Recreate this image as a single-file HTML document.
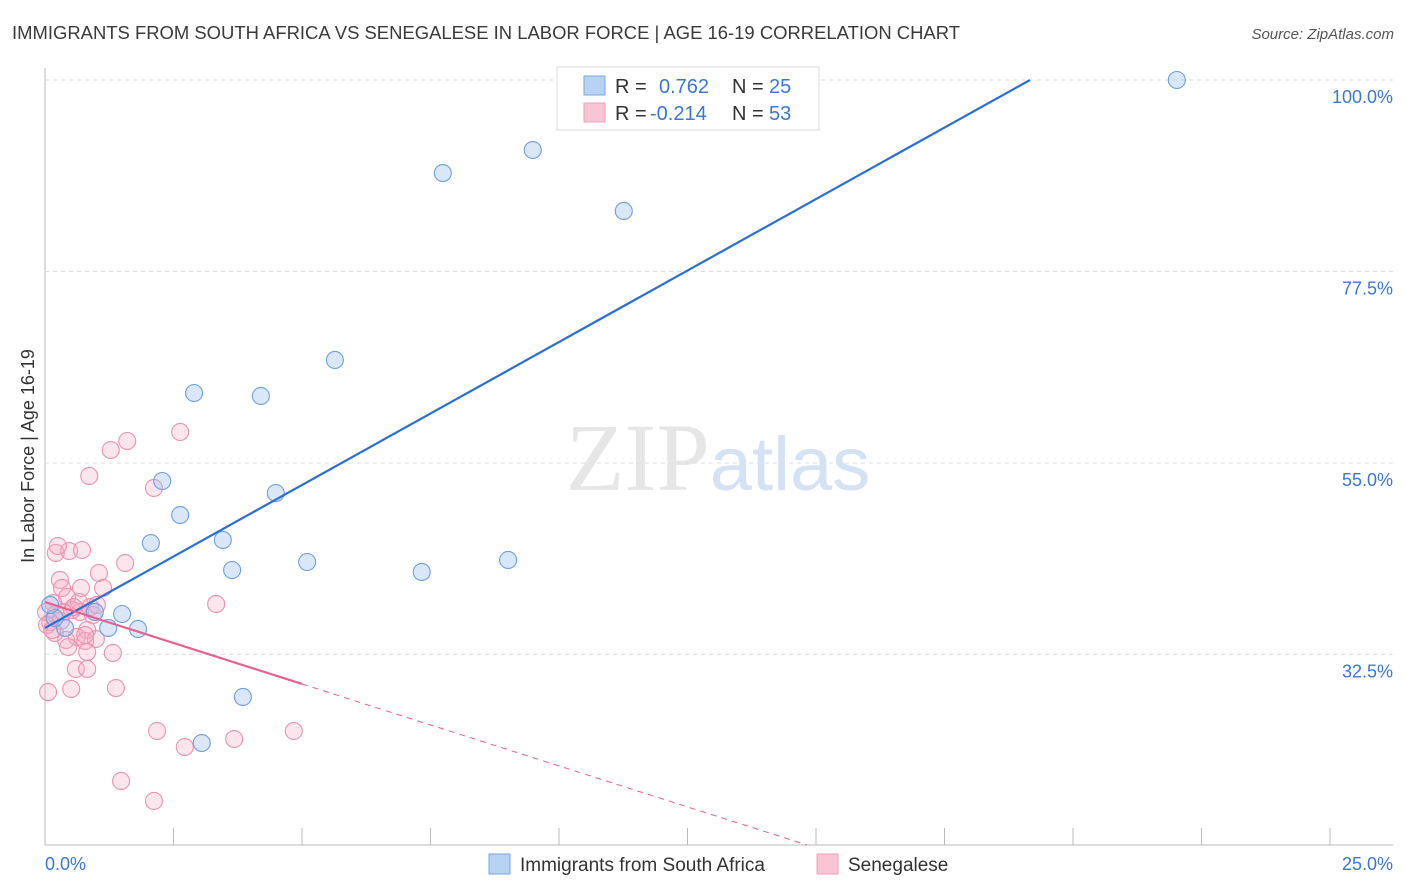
<!DOCTYPE html>
<html><head><meta charset="utf-8">
<style>
body{margin:0;background:#fff;font-family:"Liberation Sans",sans-serif;}
svg{display:block}
</style></head>
<body>
<svg id="chart" width="1406" height="892" xmlns="http://www.w3.org/2000/svg">
<text x="12" y="39" font-size="18" fill="#3a3a3a" textLength="948" lengthAdjust="spacingAndGlyphs">IMMIGRANTS FROM SOUTH AFRICA VS SENEGALESE IN LABOR FORCE | AGE 16-19 CORRELATION CHART</text>
<text x="1394" y="39" font-size="15" fill="#555" font-style="italic" text-anchor="end">Source: ZipAtlas.com</text>
<text x="718" y="490" font-size="96" text-anchor="middle" fill="#e6e6e6" font-family="Liberation Serif, serif">ZIP<tspan fill="#d4e2f4" font-family="Liberation Sans, sans-serif" font-size="76">atlas</tspan></text>
<text transform="translate(34,456) rotate(-90)" font-size="18" fill="#333" text-anchor="middle">In Labor Force | Age 16-19</text>
<g id="grid"></g>
<g id="marks"></g>
<g>
<rect x="557" y="67" width="262" height="63" fill="#fff" stroke="#ddd"/>
<rect x="584" y="76" width="21" height="19" fill="#b8d2f4" stroke="#7aa6e0"/>
<rect x="584" y="103" width="21" height="19" fill="#f8c5d4" stroke="#eea0b8"/>
<text x="615" y="93" font-size="20" fill="#333">R =<tspan x="659" fill="#3a78d4">0.762</tspan><tspan x="732" fill="#333">N = </tspan><tspan x="769" fill="#3a78d4">25</tspan></text>
<text x="615" y="120" font-size="20" fill="#333">R =<tspan x="650" fill="#3a78d4">-0.214</tspan><tspan x="732" fill="#333">N = </tspan><tspan x="769" fill="#3a78d4">53</tspan></text>
</g>
<g>
<rect x="489" y="854" width="21" height="20" fill="#b8d2f4" stroke="#7aa6e0"/>
<text x="520" y="871" font-size="19" fill="#333">Immigrants from South Africa</text>
<rect x="817" y="854" width="21" height="20" fill="#f8c5d4" stroke="#eea0b8"/>
<text x="848" y="871" font-size="19" fill="#333">Senegalese</text>
</g>
</svg>
<script>
const xTicks=[0,2.5,5,7.5,10,12.5,15,17.5,20,22.5,25];
const yTicks=[32.5,55,77.5,100];
const yTickLabels=["32.5%","55.0%","77.5%","100.0%"];
const blueX=[22.02,9.49,7.74,11.26,5.64,2.90,4.20,2.28,4.49,2.63,2.06,3.46,3.64,5.10,7.33,9.01,0.97,1.50,1.23,1.81,0.39,0.19,0.10,3.85,3.05];
const blueY=[100,91.77,89.07,84.61,67.1,63.22,62.87,52.88,51.47,48.88,45.59,45.95,42.42,43.36,42.19,43.6,37.49,37.25,35.61,35.49,35.61,36.78,38.31,27.5,22.09];
const pinkX=[0.06,0.51,0.21,0.47,0.72,0.25,0.86,1.28,1.60,2.63,2.12,1.56,1.05,0.29,0.33,0.70,1.13,0.43,0.66,0.16,0.88,0.53,0.02,0.21,0.93,0.10,0.31,0.82,0.19,0.62,0.41,0.78,0.99,0.45,0.82,1.32,0.60,0.82,1.38,3.33,2.18,2.72,3.68,4.84,1.48,2.12,0.04,0.68,1.01,0.56,0.35,0.78,0.14];
const pinkY=[28.08,28.44,44.42,44.65,44.77,45.24,53.47,56.52,57.58,58.64,52.06,43.24,42.07,41.25,40.31,40.31,40.31,39.25,38.66,38.54,38.07,37.72,37.49,37.25,37.13,36.31,36.43,35.37,35.02,34.55,34.2,34.08,34.31,33.37,32.78,32.67,30.79,30.79,28.55,38.43,23.5,21.62,22.56,23.5,17.63,15.28,35.96,37.49,38.31,38.07,37.49,34.78,35.37];
const blueLine=[35.61,3.36];   // intercept, slope
const pinkLine=[38.66,-1.926];
const NS="http://www.w3.org/2000/svg";
const X=v=>45+v*51.4, Y=v=>80+(100-v)*8.51;
const yMin=100-(845-80)/8.51;
function mk(t,a,p){const e=document.createElementNS(NS,t);for(const k in a)e.setAttribute(k,a[k]);p.appendChild(e);return e;}
const grid=document.getElementById('grid'),marks=document.getElementById('marks');
mk('line',{x1:45,y1:68,x2:45,y2:845,stroke:'#bbb'},grid);
mk('line',{x1:45,y1:845,x2:1393,y2:845,stroke:'#bbb'},grid);
yTicks.forEach((t,i)=>{
 const l=mk('line',{x1:45,y1:Y(t),x2:1393,y2:Y(t),stroke:'#ddd','stroke-dasharray':'4,4'},grid);
 
 
 const tx=mk('text',{x:1393,y:Y(t)+23,'font-size':18,fill:'#3a78d4','text-anchor':'end'},grid);
 tx.textContent=yTickLabels[i];
 
 
});
xTicks.forEach(t=>{
 const l=mk('line',{x1:X(t),y1:828,x2:X(t),y2:845,stroke:'#bbb'},grid);
 
 
});
const xl=mk('text',{x:45,y:870,'font-size':18,fill:'#3a78d4'},grid);xl.textContent='0.0%';


const xr=mk('text',{x:1393,y:870,'font-size':18,fill:'#3a78d4','text-anchor':'end'},grid);xr.textContent='25.0%';


pinkX.forEach((x,i)=>{
 const c=mk('circle',{cx:X(x),cy:Y(pinkY[i]),r:8.5,fill:'rgba(245,170,195,0.3)',stroke:'#eb92b0','stroke-width':1.1},marks);
 
 
});
blueX.forEach((x,i)=>{
 const c=mk('circle',{cx:X(x),cy:Y(blueY[i]),r:8.5,fill:'rgba(160,195,240,0.4)',stroke:'#6f9fdc','stroke-width':1.1},marks);
 
 
});
const bxEnd=(100-blueLine[0])/blueLine[1];
const bl=mk('line',{x1:X(0),y1:Y(blueLine[0]),x2:X(bxEnd),y2:Y(100),stroke:'#2a6fd6','stroke-width':2.2},marks);


const pSolid=5, pEnd=(pinkLine[0]-yMin)/(-pinkLine[1]);
const ps=mk('line',{x1:X(0),y1:Y(pinkLine[0]),x2:X(pSolid),y2:Y(pinkLine[0]+pinkLine[1]*pSolid),stroke:'#e8618e','stroke-width':2.2},marks);


const pd=mk('line',{x1:X(pSolid),y1:Y(pinkLine[0]+pinkLine[1]*pSolid),x2:X(pEnd),y2:Y(yMin),stroke:'#e8618e','stroke-width':1,'stroke-dasharray':'6,5'},marks);


</script>
</body></html>
